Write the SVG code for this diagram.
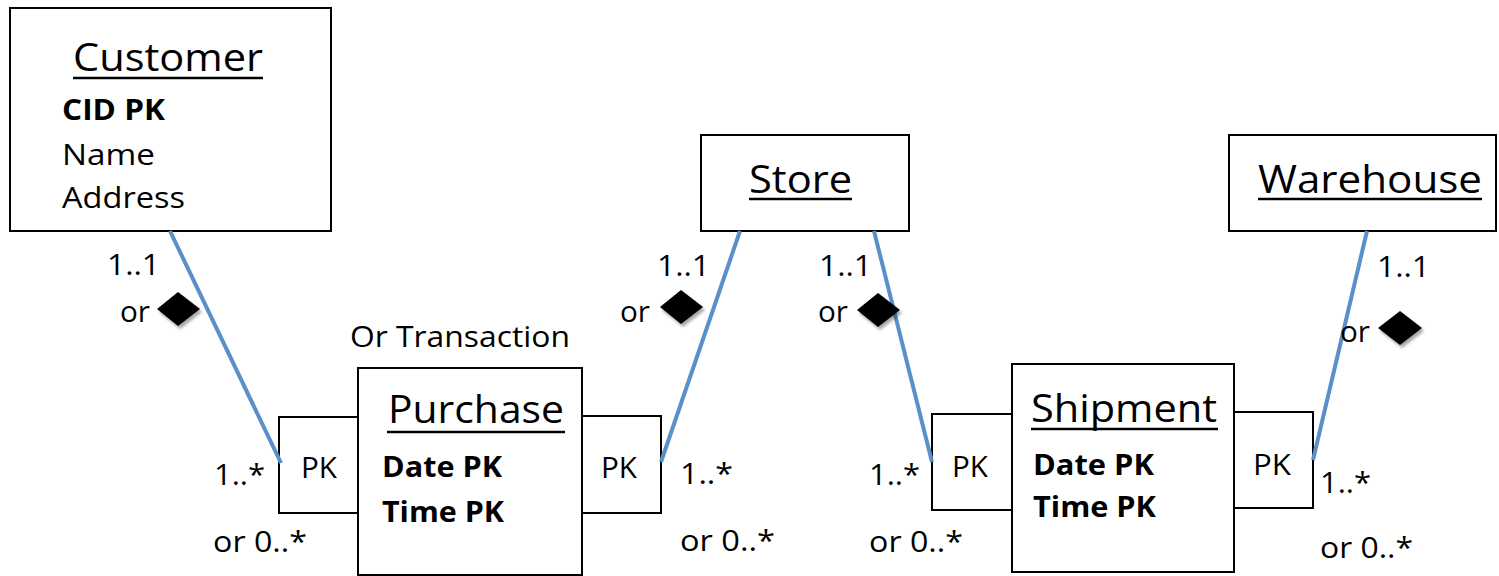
<svg xmlns="http://www.w3.org/2000/svg" width="1499" height="576" viewBox="0 0 1499 576">
<style>
.box{fill:#fff;stroke:#000;stroke-width:2}
.t{font-family:"Open Sans","Liberation Sans",sans-serif;font-size:29px;fill:#000}
.b{font-family:"Open Sans","Liberation Sans",sans-serif;font-size:28px;font-weight:bold;fill:#000}
.h{font-family:"Open Sans","Liberation Sans",sans-serif;font-size:38px;fill:#000}
.ul{stroke:#000;stroke-width:2.6}
.conn{stroke:#5B8FC9;stroke-width:4;fill:none}
.dia{fill:#000}
.sh{fill:#000;opacity:0.35;filter:url(#blur)}
</style>
<defs>
<filter id="blur" x="-50%" y="-50%" width="200%" height="200%"><feGaussianBlur stdDeviation="1.5"/></filter>
</defs>

<g id="customer">
<rect class="box" x="10" y="8" width="321" height="223"/>
<text class="h" x="73" y="71" textLength="190" lengthAdjust="spacingAndGlyphs">Customer</text>
<line class="ul" x1="73" y1="78" x2="263" y2="78"/>
<text class="b" x="62" y="120" textLength="103" lengthAdjust="spacingAndGlyphs">CID PK</text>
<text class="t" x="62" y="165" textLength="93" lengthAdjust="spacingAndGlyphs">Name</text>
<text class="t" x="62" y="208" textLength="123" lengthAdjust="spacingAndGlyphs">Address</text>
</g>

<g id="store">
<rect class="box" x="701" y="135" width="208" height="96"/>
<text class="h" x="749" y="193" textLength="103" lengthAdjust="spacingAndGlyphs">Store</text>
<line class="ul" x1="749" y1="199" x2="852" y2="199"/>
</g>

<g id="warehouse">
<rect class="box" x="1229" y="135" width="267" height="96"/>
<text class="h" x="1258" y="193" textLength="224" lengthAdjust="spacingAndGlyphs">Warehouse</text>
<line class="ul" x1="1258" y1="199" x2="1482" y2="199"/>
</g>

<g id="purchase">
<rect class="box" x="279" y="417" width="79" height="96"/>
<rect class="box" x="582" y="416" width="79" height="97"/>
<rect class="box" x="358" y="368" width="224" height="207"/>
<text class="h" x="388" y="423" textLength="176" lengthAdjust="spacingAndGlyphs">Purchase</text>
<line class="ul" x1="387" y1="432" x2="565" y2="432"/>
<text class="b" x="382" y="477" textLength="120" lengthAdjust="spacingAndGlyphs">Date PK</text>
<text class="b" x="382" y="522" textLength="122" lengthAdjust="spacingAndGlyphs">Time PK</text>
<text class="t" x="301" y="478" textLength="36" lengthAdjust="spacingAndGlyphs">PK</text>
<text class="t" x="601" y="478" textLength="36" lengthAdjust="spacingAndGlyphs">PK</text>
<text class="t" x="350" y="347" textLength="220" lengthAdjust="spacingAndGlyphs">Or Transaction</text>
</g>

<g id="shipment">
<rect class="box" x="932" y="414" width="80" height="96"/>
<rect class="box" x="1234" y="412" width="79" height="96"/>
<rect class="box" x="1012" y="364" width="222" height="208"/>
<text class="h" x="1031" y="422" textLength="186" lengthAdjust="spacingAndGlyphs">Shipment</text>
<line class="ul" x1="1031" y1="429" x2="1218" y2="429"/>
<text class="b" x="1033" y="475" textLength="121" lengthAdjust="spacingAndGlyphs">Date PK</text>
<text class="b" x="1033" y="517" textLength="123" lengthAdjust="spacingAndGlyphs">Time PK</text>
<text class="t" x="952" y="477" textLength="36" lengthAdjust="spacingAndGlyphs">PK</text>
<text class="t" x="1253" y="475" textLength="38" lengthAdjust="spacingAndGlyphs">PK</text>
</g>

<g id="connectors">
<line class="conn" x1="170" y1="231" x2="281" y2="463"/>
<line class="conn" x1="661" y1="462" x2="740" y2="231"/>
<line class="conn" x1="874" y1="231" x2="932" y2="462"/>
<line class="conn" x1="1367" y1="231" x2="1313" y2="460"/>
</g>

<g id="labels">
<polygon class="sh" points="159,312 180,295 202,312 180,329"/>
<polygon class="dia" points="157,309 178,292 200,309 178,326"/>
<polygon class="sh" points="662,310 683,293 705,310 683,327"/>
<polygon class="dia" points="660,307 681,290 703,307 681,324"/>
<polygon class="sh" points="859,313 880,296 902,313 880,330"/>
<polygon class="dia" points="857,310 878,293 900,310 878,327"/>
<polygon class="sh" points="1380,331 1402,314 1424,331 1402,348"/>
<polygon class="dia" points="1378,328 1400,311 1422,328 1400,345"/>

<text class="t" x="107" y="275" textLength="53" lengthAdjust="spacingAndGlyphs">1..1</text>
<text class="t" x="120" y="322" textLength="30" lengthAdjust="spacingAndGlyphs">or</text>
<text class="t" x="214" y="485" textLength="51" lengthAdjust="spacingAndGlyphs">1..*</text>
<text class="t" x="213" y="552" textLength="94" lengthAdjust="spacingAndGlyphs">or 0..*</text>

<text class="t" x="657" y="276" textLength="53" lengthAdjust="spacingAndGlyphs">1..1</text>
<text class="t" x="620" y="322" textLength="30" lengthAdjust="spacingAndGlyphs">or</text>
<text class="t" x="680" y="484" textLength="53" lengthAdjust="spacingAndGlyphs">1..*</text>
<text class="t" x="680" y="551" textLength="95" lengthAdjust="spacingAndGlyphs">or 0..*</text>

<text class="t" x="819" y="276" textLength="53" lengthAdjust="spacingAndGlyphs">1..1</text>
<text class="t" x="818" y="322" textLength="30" lengthAdjust="spacingAndGlyphs">or</text>
<text class="t" x="869" y="485" textLength="51" lengthAdjust="spacingAndGlyphs">1..*</text>
<text class="t" x="869" y="552" textLength="94" lengthAdjust="spacingAndGlyphs">or 0..*</text>

<text class="t" x="1377" y="277" textLength="53" lengthAdjust="spacingAndGlyphs">1..1</text>
<text class="t" x="1340" y="342" textLength="30" lengthAdjust="spacingAndGlyphs">or</text>
<text class="t" x="1320" y="493" textLength="51" lengthAdjust="spacingAndGlyphs">1..*</text>
<text class="t" x="1320" y="558" textLength="93" lengthAdjust="spacingAndGlyphs">or 0..*</text>
</g>
</svg>
